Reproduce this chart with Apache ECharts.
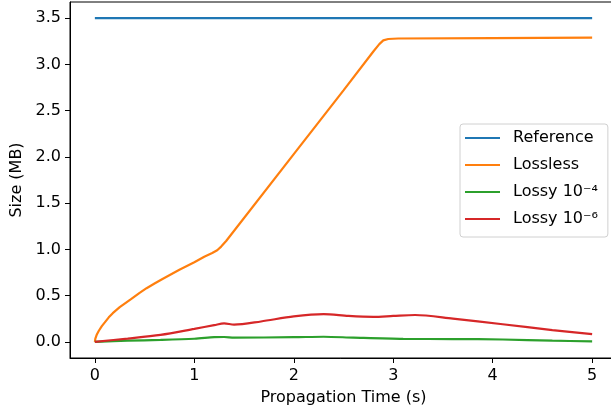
<!DOCTYPE html>
<html>
<head>
<meta charset="utf-8">
<script src="https://cdn.jsdelivr.net/npm/echarts@6/dist/echarts.min.js"></script>
<style>
  html, body { margin: 0; padding: 0; background: #fff; }
  #chart { width: 611px; height: 416px; }
</style>
</head>
<body>
<div id="chart"></div>
<script>
// tick labels
var xTicks = [0, 1, 2, 3, 4, 5];
var yTicks = [0, 0.5, 1.0, 1.5, 2.0, 2.5, 3.0, 3.5];

// series
var refX = [0, 5];
var refY = [3.5, 3.5];

var losslessX = [0, 0.005, 0.01, 0.02, 0.04, 0.07, 0.1, 0.14, 0.18, 0.25, 0.36, 0.45, 0.52, 0.6, 0.68, 0.85, 1.0, 1.1, 1.18, 1.23, 1.27, 1.32, 2.0, 2.5, 2.8, 2.86, 2.9, 2.95, 3.05, 4.0, 5.0];
var losslessY = [0, 0.035, 0.05, 0.08, 0.12, 0.17, 0.21, 0.265, 0.31, 0.375, 0.46, 0.53, 0.58, 0.63, 0.68, 0.78, 0.86, 0.92, 0.96, 0.99, 1.03, 1.09, 2.03, 2.72, 3.14, 3.22, 3.26, 3.275, 3.28, 3.285, 3.29];

var lossy4X = [0, 0.33, 0.66, 1.0, 1.2, 1.3, 1.4, 2.0, 2.3, 2.6, 3.1, 3.6, 4.1, 4.6, 5.0];
var lossy4Y = [0, 0.012, 0.02, 0.033, 0.05, 0.052, 0.045, 0.05, 0.055, 0.045, 0.032, 0.03, 0.025, 0.012, 0.005];

var lossy6X = [0, 0.33, 0.66, 1.0, 1.2, 1.3, 1.4, 1.67, 2.0, 2.3, 2.55, 2.8, 3.0, 3.22, 3.6, 4.1, 4.6, 5.0];
var lossy6Y = [0, 0.035, 0.075, 0.14, 0.18, 0.2, 0.185, 0.22, 0.275, 0.3, 0.28, 0.27, 0.28, 0.29, 0.25, 0.19, 0.127, 0.083];

function pairs(xs, ys) {
  return xs.map(function (x, i) { return [x, ys[i]]; });
}

var chart = echarts.init(document.getElementById('chart'));
var font = 'DejaVu Sans';

chart.setOption({
  animation: false,
  backgroundColor: '#fff',
  textStyle: { fontFamily: font },
  // the right spine of the original figure is cut off by the image edge
  grid: {
    left: 70, width: 547, top: 2, bottom: 58,
    outerBoundsMode: 'none',
    show: true, borderColor: '#000', borderWidth: 1
  },
  legend: {
    orient: 'vertical',
    left: 460, top: 124,
    padding: [5, 10, 9, 5],
    itemGap: 9,
    itemWidth: 35,
    itemHeight: 2,
    icon: 'rect',
    borderColor: '#d0d0d0',
    borderWidth: 1,
    borderRadius: 3,
    backgroundColor: 'rgba(255,255,255,0.8)',
    textStyle: { fontFamily: font, fontSize: 16, color: '#000', lineHeight: 18, padding: [0, 0, 0, 8] },
    data: ['Reference', 'Lossless', 'Lossy 10⁻⁴', 'Lossy 10⁻⁶']
  },
  xAxis: {
    type: 'value',
    min: -0.25, max: 5.25,
    name: 'Propagation Time (s)',
    nameLocation: 'middle',
    nameGap: 32,
    nameTextStyle: { fontFamily: font, fontSize: 16, color: '#000' },
    splitLine: { show: false },
    axisLine: { show: true, onZero: false, lineStyle: { color: '#000' } },
    axisTick: { show: true, length: 5, customValues: xTicks, lineStyle: { color: '#000' } },
    axisLabel: {
      customValues: xTicks, margin: 10,
      fontFamily: font, fontSize: 16, color: '#000',
      formatter: function (v) { return String(v); }
    }
  },
  yAxis: {
    type: 'value',
    min: -0.175, max: 3.675,
    name: 'Size (MB)',
    nameLocation: 'middle',
    nameGap: 44,
    nameRotate: 90,
    nameTextStyle: { fontFamily: font, fontSize: 16, color: '#000' },
    splitLine: { show: false },
    axisLine: { show: true, onZero: false, lineStyle: { color: '#000' } },
    axisTick: { show: true, length: 5, customValues: yTicks, lineStyle: { color: '#000' } },
    axisLabel: {
      customValues: yTicks, margin: 9,
      fontFamily: font, fontSize: 16, color: '#000',
      formatter: function (v) { return v.toFixed(1); }
    }
  },
  series: [
    { name: 'Reference', type: 'line', symbol: 'none', data: pairs(refX, refY),
      color: '#1f77b4', lineStyle: { width: 2.2 } },
    { name: 'Lossless', type: 'line', symbol: 'none', data: pairs(losslessX, losslessY),
      color: '#ff7f0e', lineStyle: { width: 2.2 } },
    { name: 'Lossy 10⁻⁴', type: 'line', symbol: 'none', smooth: 0.3, data: pairs(lossy4X, lossy4Y),
      color: '#2ca02c', lineStyle: { width: 2.2 } },
    { name: 'Lossy 10⁻⁶', type: 'line', symbol: 'none', smooth: 0.3, data: pairs(lossy6X, lossy6Y),
      color: '#d62728', lineStyle: { width: 2.2 } }
  ]
});
</script>
</body>
</html>
